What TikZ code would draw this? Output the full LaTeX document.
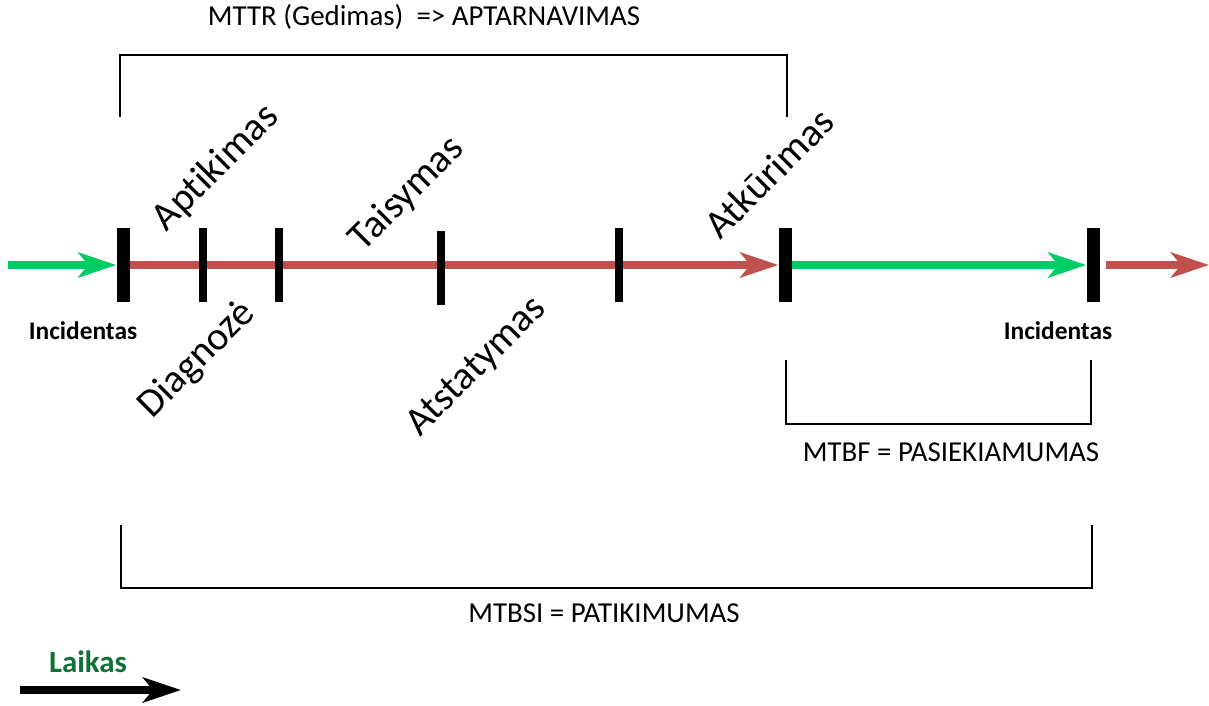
\documentclass[tikz,border=0pt]{standalone}
\usepackage{fontspec}
\setmainfont{Carlito}[Ligatures=NoCommon]
\usetikzlibrary{arrows.meta,backgrounds}
\definecolor{failred}{RGB}{192,80,77}
\definecolor{okgreen}{RGB}{0,204,102}
\definecolor{timegreen}{RGB}{16,112,56}

\begin{document}
\begin{tikzpicture}[x=1bp, y=-1bp,
    bartick/.style={fill=black, draw=none, inner sep=0pt, minimum width=8bp, minimum height=73bp},
    bigtick/.style={bartick, minimum width=13bp},
    flow/.style={line width=8bp, -{Stealth[length=38bp, width=25bp, inset=10bp]}},
    bracket/.style={line width=1.5bp, black},
    phase/.style={rotate=45, inner sep=0pt, font=\fontsize{40}{48}\selectfont},
    caption/.style={inner sep=0pt, anchor=base, font=\fontsize{29}{34}\selectfont},
    incident/.style={inner sep=0pt, anchor=base, font=\fontsize{25.5}{30}\selectfont\bfseries}]
    \useasboundingbox (0,0) rectangle (1209,706);
    % Marks on the time axis.
    \node[bigtick] (t1) at ( 123,265) {};
    \node[bartick] (t2) at ( 203,265) {};
    \node[bartick] (t3) at ( 279,265) {};
    \node[bartick] (t4) at ( 441,268) {};
    \node[bartick] (t5) at ( 619,265) {};
    \node[bigtick] (t6) at ( 785,265) {};
    \node[bigtick] (t7) at (1093,265) {};
    \coordinate (start) at (8,265);
    \coordinate (after) at (1106,265);
    \coordinate (end) at (1209,265);
    % Time axis.
    \begin{scope}[on background layer]
      \draw[flow, okgreen] (start) -- (t1);
      \draw[flow, failred] (t1) -- (t6);
      \draw[flow, okgreen] (t6) -- (t7);
      \draw[flow, failred] (after) -- (end);
    \end{scope}
    % Phase labels.
    \node[phase] (aptik) at (216,168) {Apt\kern0pt ikimas};
    \node[phase] (diag)  at (197,360) {Diagnozė};
    \node[phase] (tais)  at (407,194) {Taisymas};
    \node[phase] (atst)  at (477,367) {Atstatymas};
    \node[phase] (atk)   at (769,173) {Atkūrimas};
    % Incidents.
    \node[incident] (inc1) at (  83,339) {Incidentas};
    \node[incident] (inc2) at (1058,339) {Incidentas};
    % Brackets.
    \draw[bracket] (120,117) -- (120,55) -- (787,55) -- (787,117);
    \draw[bracket] (786,360) -- (786,424) -- (1091,424) -- (1091,360);
    \draw[bracket] (121,525) -- (121,588) -- (1092,588) -- (1092,525);
    \node[caption] (mttr)  at (424,26)  {MTTR (Gedimas)\ \ => APTARNAVIMAS};
    \node[caption] (mtbf)  at (951,461) {MTBF = PASIEKIAMUMAS};
    \node[caption] (mtbsi) at (604,622) {MTBSI = PATIKIMUMAS};
    % Time direction.
    \node[inner sep=0pt, anchor=base, text=timegreen, font=\fontsize{31}{36}\selectfont\bfseries] (laikas) at (88,672) {Laikas};
    \coordinate (l0) at (20,690);
    \coordinate (l1) at (181,690);
    \draw[flow, black] (l0) -- (l1);
\end{tikzpicture}
\end{document}
